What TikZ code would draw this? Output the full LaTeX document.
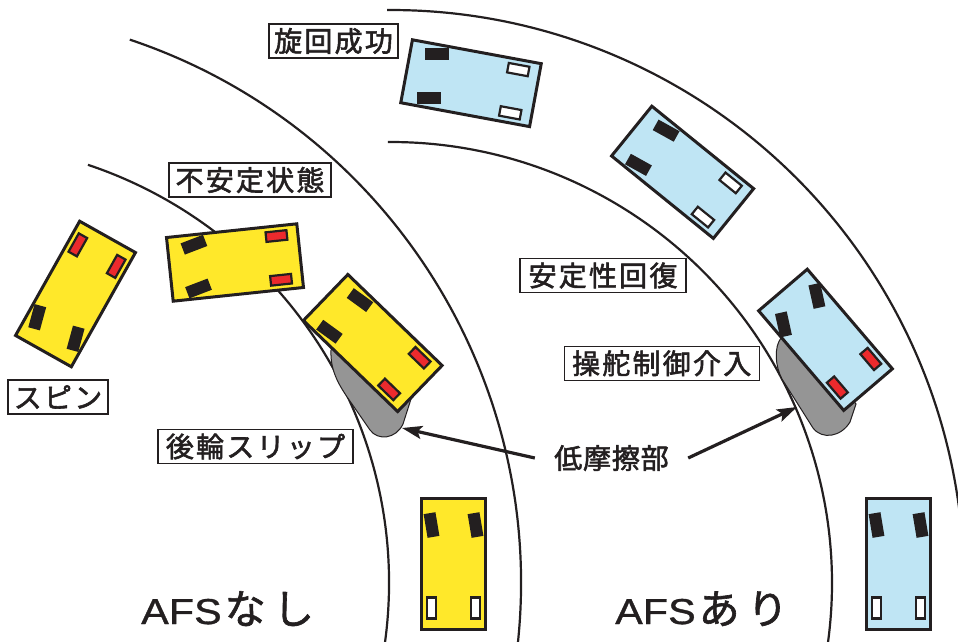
\documentclass[tikz,border=0pt]{standalone}
\usepackage{fontspec}
\usetikzlibrary{arrows.meta}

\newfontfamily\jpfont[LetterSpace=8, FakeBold=2]{Noto Sans CJK JP}
\newfontfamily\jpplain[LetterSpace=3, FakeBold=2]{Noto Sans CJK JP}
\newfontfamily\jpbig[LetterSpace=18, FakeBold=1.5]{Noto Sans CJK JP}
\newfontfamily\latinwide[FakeStretch=1.15, FakeBold=1]{Liberation Sans}

\definecolor{ink}{HTML}{231F20}
\definecolor{carYellow}{HTML}{FFE82A}
\definecolor{carBlue}{HTML}{BFE5F4}
\definecolor{slipRed}{HTML}{EC2A2D}
\definecolor{patchGray}{HTML}{959595}

\tikzset{
  road/.style={draw=ink, line width=2.2pt},
  body/.style={draw=ink, line width=3pt, line join=miter},
  tyre/.style={fill=ink},
  reartyre/.style={draw=ink, line width=2.2pt},
  patch/.style={fill=patchGray, draw=ink, line width=1pt},
  tag/.style={draw=ink, line width=1.3pt, fill=white, inner sep=0pt,
    minimum height=34pt, text=ink, font=\jpfont\fontsize{28}{30}\selectfont},
  pointer/.style={draw=ink, line width=3.2pt,
    -{Stealth[length=20pt,width=13pt,inset=4pt]}},
}

% car seen from above: #1,#2 centre (pixel column,row), #3 heading (0 = nose up),
% #4 body colour, #5 rear tyre fill, #6 steering angle of the front tyres
\newcommand{\vehicle}[6]{%
  \begin{scope}[shift={(#1,-#2)}, rotate=#3]
    \draw[body, fill=#4] (-32,-65.5) rectangle (32,65.5);
    \foreach \s in {-1,1} {
      \begin{scope}[shift={(\s*22,39)}, rotate=#6]
        \fill[tyre] (-6,-12) rectangle (6,12);
      \end{scope}
      \draw[reartyre, fill=#5] (\s*22-4.8,-54.5) rectangle (\s*22+4.8,-33.5);
    }
  \end{scope}}

\begin{document}
\begin{tikzpicture}[x=1pt, y=1pt]
\useasboundingbox (0,0) rectangle (958,-642);

% road edges: two identical bends
\begin{scope}
  \clip (0,0) rectangle (958,-642);
  \draw[road] (-52,-583) ++(71.5:441) arc[start angle=71.5, end angle=-10, radius=441];
  \draw[road] (-52,-583) ++(71.5:573) arc[start angle=71.5, end angle=-10, radius=573];
  \draw[road] (391,-583) ++(90.4:441) arc[start angle=90.4, end angle=-10, radius=441];
  \draw[road] (391,-583) ++(90.4:573) arc[start angle=90.4, end angle=-10, radius=573];
\end{scope}

% low-friction patches under the rear wheels
\draw[patch] (345,-335) -- (331,-350) .. controls (330,-372) and (340,-387) .. (352,-404)
  -- (370,-430) .. controls (378,-441) and (396,-439) .. (403,-424) -- (411,-399) -- (395,-370) -- cycle;
\draw[patch] (790,-330) -- (781,-338) .. controls (774,-347) and (775,-366) .. (782,-379)
  -- (813,-428) .. controls (822,-440) and (841,-437) .. (850,-422) -- (856,-404) -- (830,-370) -- cycle;
\coordinate (slipL) at (402,-428);
\coordinate (slipR) at (797,-407);

% without AFS
\vehicle{453.5}{564}{0}{carYellow}{white}{9.5}
\vehicle{372.75}{343}{46}{carYellow}{slipRed}{8}
\vehicle{235}{262.5}{96}{carYellow}{slipRed}{15}
\vehicle{75.5}{294}{150.7}{carYellow}{slipRed}{14}

% with AFS
\vehicle{898.5}{564}{0}{carBlue}{white}{9.5}
\vehicle{825.5}{339.8}{40.5}{carBlue}{slipRed}{-28}
\vehicle{682.6}{172.3}{51}{carBlue}{white}{10}
\vehicle{471}{83.2}{79.5}{carBlue}{white}{10.5}

% stage labels
\node[tag, minimum width=129pt] (turnOk)   at (333.5,-41)   {旋回成功};
\node[tag, minimum width=162pt] (unstable) at (250,-180)    {不安定状態};
\node[tag, minimum width=100pt] (spin)     at (58,-397)     {スピン};
\node[tag, minimum width=195pt] (rearSlip) at (255.5,-446.5){後輪スリップ};
\node[tag, minimum width=166pt] (recover)  at (603,-275.5)  {安定性回復};
\node[tag, minimum width=195pt] (steerCtl) at (661.7,-363.3){操舵制御介入};

% low-friction callout
\node[inner sep=0pt, minimum width=153pt, text=ink,
      font=\jpplain\fontsize{28}{30}\selectfont] (lowMu) at (611.5,-458) {低摩擦部};
\draw[pointer] (lowMu.west) -- (slipL);
\draw[pointer] (lowMu.east) -- (slipR);

% case captions
\node[anchor=base west, inner sep=0pt, text=ink] (afsOff) at (141,-624)
  {{\latinwide\fontsize{36}{37}\selectfont AFS}\hspace{3pt}{\jpbig\fontsize{41}{42}\selectfont なし}};
\node[anchor=base west, inner sep=0pt, text=ink] (afsOn) at (615,-624)
  {{\latinwide\fontsize{36}{37}\selectfont AFS}\hspace{3pt}{\jpbig\fontsize{41}{42}\selectfont あり}};
\end{tikzpicture}
\end{document}
